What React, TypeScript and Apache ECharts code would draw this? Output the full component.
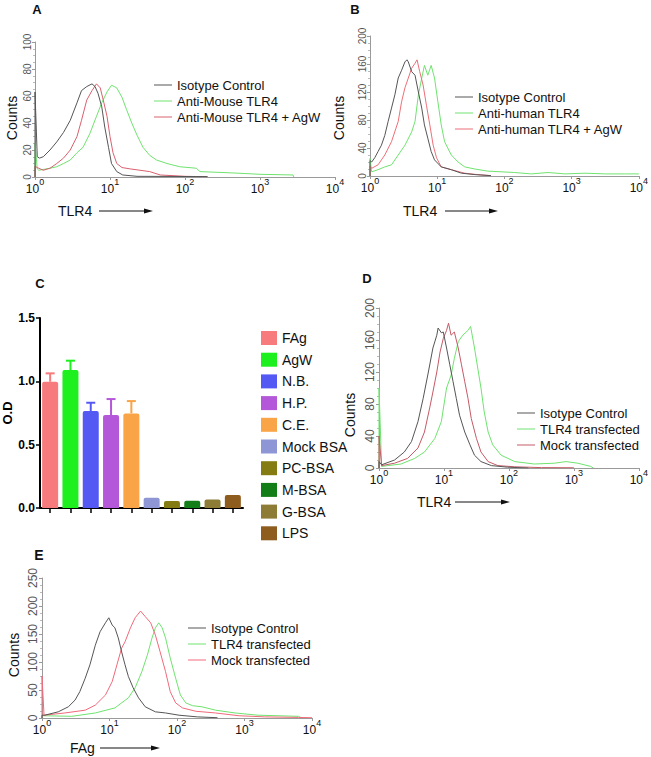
import React, { useEffect, useRef } from "react";
import * as echarts from "echarts";

// ---------- Panel A (mouse TLR4) : [log10 intensity, counts] ----------
const aIsotype = [[0,0],[0,63],[0.03,15],[0.06,14],[0.11,15],[0.2,20],[0.29,26],[0.38,33],[0.47,42],[0.56,55],[0.62,64],[0.69,67],[0.76,69],[0.8,67],[0.84,62],[0.89,52],[0.93,37],[0.98,22],[1.02,10],[1.09,4],[1.17,1.5],[1.36,0.5],[2.3,0.3]];
const aAntiMouse = [[0,0],[0,25],[0.03,6],[0.05,5],[0.2,6.5],[0.29,7.6],[0.38,10],[0.47,12.6],[0.56,18],[0.64,22],[0.73,32],[0.82,45],[0.89,55],[0.96,63],[1.02,68],[1.09,66],[1.16,59],[1.22,50],[1.29,40],[1.36,31],[1.44,22],[1.53,16],[1.62,12.6],[1.76,10],[1.93,7.6],[2.15,6.5],[2.2,4],[2.64,3],[3.0,2],[3.44,1.5],[3.45,0]];
const aAntiMouseAgW = [[0,0],[0,8],[0.03,7],[0.11,5],[0.2,6.5],[0.29,10],[0.38,14],[0.47,20],[0.56,30],[0.62,42],[0.69,57],[0.76,64],[0.82,69],[0.87,66],[0.91,57],[0.96,45],[1.0,30],[1.04,18],[1.09,10],[1.16,7],[1.27,6],[1.4,5],[1.53,4],[1.67,1.5],[2.0,0.5],[2.3,0.2]];

// ---------- Panel B (human TLR4) ----------
const bIsotype = [[0,0],[0,22],[0.025,20],[0.07,26],[0.12,35],[0.17,44],[0.22,58],[0.27,78],[0.32,97],[0.37,116],[0.42,140],[0.47,151],[0.52,163],[0.55,166],[0.57,163],[0.62,149],[0.67,144],[0.72,120],[0.77,97],[0.81,73],[0.86,54],[0.91,35],[0.96,23],[1.06,13],[1.21,9],[1.36,4],[1.56,2],[1.8,0.5]];
const bAntiHuman = [[0,0],[0,25],[0.025,6],[0.12,9],[0.22,13],[0.32,16],[0.42,30],[0.52,44],[0.62,63],[0.67,78],[0.72,116],[0.77,140],[0.81,158],[0.86,144],[0.91,158],[0.96,140],[1.01,106],[1.06,73],[1.11,49],[1.21,30],[1.31,20],[1.41,13],[1.56,10],[1.75,7],[2.15,5],[2.4,3],[2.65,5],[2.9,3],[3.2,4],[3.5,3],[3.8,3],[4.0,3]];
const bAntiHumanAgW = [[0,0],[0,14],[0.025,11],[0.12,16],[0.22,30],[0.32,49],[0.42,78],[0.47,106],[0.52,126],[0.57,140],[0.62,154],[0.67,161],[0.7,166],[0.74,149],[0.79,130],[0.84,101],[0.89,73],[0.94,44],[0.99,26],[1.06,13],[1.21,9],[1.41,4],[1.6,2],[1.8,0.5]];

// ---------- Panel C (bar chart, O.D) ----------
const cCategories = ["FAg","AgW","N.B.","H.P.","C.E.","Mock BSA","PC-BSA","M-BSA","G-BSA","LPS"];
const cValues = [0.997, 1.089, 0.766, 0.734, 0.747, 0.081, 0.055, 0.058, 0.068, 0.102];
const cErrors = [0.066, 0.074, 0.065, 0.126, 0.097, 0, 0, 0, 0, 0];
const cColors = ["#f77a7c","#1ef01f","#5559f4","#b457d8","#f9a446","#8f96d6","#847c12","#137d17","#8d7c36","#8e5c1d"];

// ---------- Panel D (TLR4 transfected) ----------
const dIsotype = [[0,0],[0,8],[0.04,4],[0.24,10],[0.39,20],[0.5,33],[0.6,58],[0.68,87],[0.76,120],[0.83,150],[0.89,166],[0.91,175],[0.96,169],[0.99,170],[1.04,150],[1.09,129],[1.14,108],[1.19,87],[1.24,66],[1.32,45],[1.4,29],[1.47,16],[1.57,8],[1.73,3],[1.98,1],[2.3,0]];
const dTransfected = [[0,0],[0,100],[0.04,2],[0.34,5],[0.55,12],[0.7,20],[0.86,37],[0.96,58],[1.04,100],[1.11,116],[1.16,137],[1.22,158],[1.29,166],[1.37,172],[1.41,177],[1.47,150],[1.52,125],[1.57,100],[1.62,70],[1.68,45],[1.75,29],[1.88,16],[2.09,8],[2.39,5],[2.7,6],[2.88,8],[3.06,6],[3.26,2],[3.3,0]];
const dMock = [[0,0],[0,40],[0.04,3],[0.24,6],[0.44,12],[0.6,25],[0.7,45],[0.78,75],[0.83,95],[0.89,120],[0.94,145],[0.99,162],[1.04,172],[1.07,181],[1.11,166],[1.16,170],[1.22,150],[1.27,129],[1.32,108],[1.37,87],[1.42,62],[1.5,37],[1.57,20],[1.68,8],[1.83,3],[2.09,1.5],[2.5,0.5],[3.0,0.3]];

// ---------- Panel E (FAg binding) ----------
const eIsotype = [[0,0],[0,5],[0.04,5],[0.24,11],[0.39,20],[0.49,32],[0.56,47],[0.64,71],[0.71,95],[0.79,130],[0.86,154],[0.94,170],[0.99,179],[1.04,166],[1.08,161],[1.13,143],[1.18,118],[1.23,95],[1.28,74],[1.35,54],[1.43,36],[1.53,20],[1.68,11],[1.83,9],[2.03,5],[2.3,2],[2.6,0.5]];
const eTransfected = [[0,0],[0,4],[0.04,4],[0.44,3],[0.79,9],[1.08,18],[1.28,36],[1.38,54],[1.48,83],[1.56,112],[1.63,143],[1.68,161],[1.73,170],[1.78,161],[1.83,143],[1.9,107],[1.98,71],[2.05,41],[2.13,27],[2.23,22],[2.37,20],[2.57,14],[2.86,9],[3.2,5],[3.8,3],[3.85,0]];
const eMock = [[0,0],[0,75],[0.03,5],[0.34,9],[0.64,14],[0.79,23],[0.94,41],[1.04,65],[1.11,95],[1.18,125],[1.23,136],[1.31,161],[1.38,179],[1.46,191],[1.53,181],[1.61,170],[1.68,148],[1.75,118],[1.83,83],[1.9,47],[1.98,27],[2.08,18],[2.28,12],[2.57,9],[2.92,4],[3.3,2],[3.8,1],[4.0,0.5]];

const SANS = "'Liberation Sans', Arial, Helvetica, sans-serif";
const NARROW = "'Liberation Sans Narrow', 'Arial Narrow', 'Liberation Sans', sans-serif";
const GRAY = "#555555";
const GREEN = "#6fe36f";

function histX(gridIndex: number) {
  return {
    type: "value", gridIndex, min: 0, max: 4, interval: 1,
    axisLine: { show: true, lineStyle: { color: "#9a9a9a", width: 1 } },
    axisTick: { show: true, length: 3, lineStyle: { color: "#9a9a9a" } },
    splitLine: { show: false },
    axisLabel: {
      margin: 0,
      formatter: (v: number) => `{b|10}{s|${v}}`,
      rich: {
        b: { fontSize: 12, lineHeight: 18, verticalAlign: "bottom", fontFamily: SANS, color: "#111" },
        s: { fontSize: 9, lineHeight: 9, verticalAlign: "top", fontFamily: SANS, color: "#111" },
      },
    },
  };
}

function histY(gridIndex: number, max: number, interval: number, fontSize: number) {
  return {
    type: "value", gridIndex, min: 0, max, interval,
    axisLine: { show: true, lineStyle: { color: "#9a9a9a", width: 1 } },
    axisTick: { show: true, length: 3, lineStyle: { color: "#9a9a9a" } },
    minorTick: { show: true, splitNumber: 4, length: 2, lineStyle: { color: "#bbbbbb" } },
    splitLine: { show: false },
    axisLabel: { rotate: 90, fontSize, color: "#555", margin: 3, fontFamily: SANS },
  };
}

function line(name: string, data: number[][], axis: number, color: string, z: number) {
  return {
    type: "line", name, data, xAxisIndex: axis, yAxisIndex: axis,
    symbol: "none", showSymbol: false, color, silent: true, z,
    lineStyle: { width: 1, color },
  };
}

function histLegend(names: string[], colors: string[], left: number, top: number) {
  return {
    data: names.map((n, i) => ({ name: n, itemStyle: { color: colors[i] } })),
    orient: "vertical", left, top, icon: "rect", itemWidth: 18, itemHeight: 1, itemGap: 3,
    selectedMode: false,
    textStyle: { fontSize: 13, fontFamily: SANS, color: "#111", lineHeight: 13 },
  };
}

function txt(text: string, x: number, y: number, size: number, opts: any = {}) {
  return {
    type: "text", x, y, rotation: opts.rotation || 0, silent: true,
    style: {
      text, fill: opts.fill || "#111", fontSize: size, fontFamily: opts.family || SANS,
      fontWeight: opts.weight || "normal",
      align: opts.align || "left", verticalAlign: "middle",
      textAlign: opts.align || "left", textVerticalAlign: "middle",
    },
  };
}

function arrow(x1: number, x2: number, y: number) {
  return [
    { type: "line", silent: true, shape: { x1, y1: y, x2: x2 - 6, y2: y }, style: { stroke: "#111", lineWidth: 1 } },
    { type: "polygon", silent: true, shape: { points: [[x2 - 9, y - 2.5], [x2, y], [x2 - 9, y + 2.5]] }, style: { fill: "#111" } },
  ];
}

export default function App() {
  const ref = useRef<HTMLDivElement>(null);
  useEffect(() => {
    if (!ref.current) return;
    const chart = echarts.init(ref.current, null, { renderer: "svg" });

    const barSeries = cCategories.map((name, i) => ({
      type: "bar", name, xAxisIndex: 4, yAxisIndex: 4, stack: "c", barWidth: 16,
      data: cCategories.map((_, j) => (j === i ? cValues[i] : "-")),
      itemStyle: { color: cColors[i], borderRadius: [2, 2, 0, 0] },
      silent: true, z: 2,
    }));

    const errSeries = {
      type: "custom", xAxisIndex: 4, yAxisIndex: 4, silent: true, z: 1,
      data: cCategories.map((_, i) => [i, cValues[i], cValues[i] + cErrors[i]]),
      renderItem: (params: any, api: any) => {
        const i = api.value(0);
        const base = api.coord([i, api.value(1)]);
        const top = api.coord([i, api.value(2)]);
        const color = cColors[params.dataIndex];
        if (api.value(2) <= api.value(1)) return { type: "group", children: [] };
        return {
          type: "group",
          children: [
            { type: "line", shape: { x1: base[0], y1: base[1], x2: base[0], y2: top[1] }, style: { stroke: color, lineWidth: 2 } },
            { type: "line", shape: { x1: base[0] - 4.5, y1: top[1], x2: base[0] + 4.5, y2: top[1] }, style: { stroke: color, lineWidth: 2 } },
          ],
        };
      },
    };

    const option: any = {
      animation: false,
      textStyle: { fontFamily: SANS },
      grid: [
        { left: 35, top: 42, width: 300, height: 135 },
        { left: 370, top: 36, width: 270, height: 140 },
        { left: 379, top: 308, width: 261, height: 160 },
        { left: 42, top: 578, width: 270, height: 140 },
        { left: 36, top: 318, width: 207, height: 190 },
      ],
      xAxis: [
        histX(0), histX(1), histX(2), histX(3),
        {
          type: "category", gridIndex: 4, data: cCategories,
          axisLine: { show: true, lineStyle: { color: "#000", width: 2 } },
          axisTick: { show: true, alignWithLabel: true, interval: 0, length: 5, lineStyle: { color: "#000", width: 1.5 } },
          axisLabel: { show: false, interval: 0 },
          splitLine: { show: false },
        },
      ],
      yAxis: [
        histY(0, 100, 20, 10), histY(1, 200, 40, 10), histY(2, 200, 40, 12), histY(3, 250, 50, 12),
        {
          type: "value", gridIndex: 4, min: 0, max: 1.5, interval: 0.5,
          name: "O.D", nameLocation: "middle", nameGap: 26, nameRotate: 90,
          nameTextStyle: { fontWeight: "bold", fontSize: 13, fontFamily: NARROW, color: "#000" },
          axisLine: { show: true, lineStyle: { color: "#000", width: 2 } },
          axisTick: { show: true, length: 4, lineStyle: { color: "#000", width: 1.5 } },
          axisLabel: { formatter: (v: number) => v.toFixed(1), fontWeight: "bold", fontSize: 12, fontFamily: NARROW, color: "#000", margin: 5 },
          splitLine: { show: false },
        },
      ],
      legend: [
        histLegend(["Isotype Control", "Anti-Mouse TLR4", "Anti-Mouse TLR4 + AgW"], [GRAY, GREEN, "#d9606f"], 149, 73.5),
        histLegend(["Isotype Control", "Anti-human TLR4", "Anti-human TLR4 + AgW"], [GRAY, GREEN, "#ec6f78"], 450, 85.5),
        histLegend(["Isotype Control", "TLR4 transfected", "Mock transfected"], [GRAY, GREEN, "#c45a66"], 512, 401.5),
        histLegend(["Isotype Control", "TLR4 transfected", "Mock transfected"], [GRAY, GREEN, "#f06a7a"], 183, 616.5),
        {
          data: cCategories.map((n, i) => ({ name: n, itemStyle: { color: cColors[i] } })),
          orient: "vertical", left: 256, top: 326, icon: "rect", itemWidth: 16, itemHeight: 14, itemGap: 7.7,
          selectedMode: false,
          textStyle: { fontSize: 14, fontFamily: NARROW, color: "#111", lineHeight: 14 },
        },
      ],
      series: [
        line("Anti-Mouse TLR4", aAntiMouse, 0, GREEN, 2),
        line("Anti-Mouse TLR4 + AgW", aAntiMouseAgW, 0, "#d9606f", 3),
        line("Isotype Control", aIsotype, 0, GRAY, 4),
        line("Anti-human TLR4", bAntiHuman, 1, GREEN, 2),
        line("Anti-human TLR4 + AgW", bAntiHumanAgW, 1, "#ec6f78", 3),
        line("Isotype Control", bIsotype, 1, GRAY, 4),
        line("TLR4 transfected", dTransfected, 2, GREEN, 2),
        line("Mock transfected", dMock, 2, "#c45a66", 3),
        line("Isotype Control", dIsotype, 2, GRAY, 4),
        line("TLR4 transfected", eTransfected, 3, GREEN, 2),
        line("Mock transfected", eMock, 3, "#f06a7a", 3),
        line("Isotype Control", eIsotype, 3, GRAY, 4),
        ...barSeries,
        errSeries,
      ],
      graphic: [
        txt("A", 37, 9, 13, { weight: "bold", align: "center" }),
        txt("B", 355, 9, 13, { weight: "bold", align: "center" }),
        txt("C", 40, 283, 13, { weight: "bold", align: "center", family: NARROW }),
        txt("D", 367, 278, 13, { weight: "bold", align: "center", family: NARROW }),
        txt("E", 39, 555, 14, { weight: "bold", align: "center" }),
        txt("Counts", 12, 118, 14, { rotation: Math.PI / 2, align: "center" }),
        txt("Counts", 339, 118, 14, { rotation: Math.PI / 2, align: "center" }),
        txt("Counts", 350, 415, 14, { rotation: Math.PI / 2, align: "center" }),
        txt("Counts", 14, 655, 14, { rotation: Math.PI / 2, align: "center" }),
        txt("TLR4", 58, 211, 14),
        ...arrow(99, 153, 211),
        txt("TLR4", 403, 211, 14),
        ...arrow(445, 498, 211),
        txt("TLR4", 417, 502, 14),
        ...arrow(455, 510, 502),
        txt("FAg", 70, 748, 14),
        ...arrow(100, 160, 748),
      ],
    };
    chart.setOption(option);
    return () => chart.dispose();
  }, []);
  return <div ref={ref} style={{ position: "absolute", left: 0, top: 0, width: 651, height: 757, background: "#fff" }} />;
}
